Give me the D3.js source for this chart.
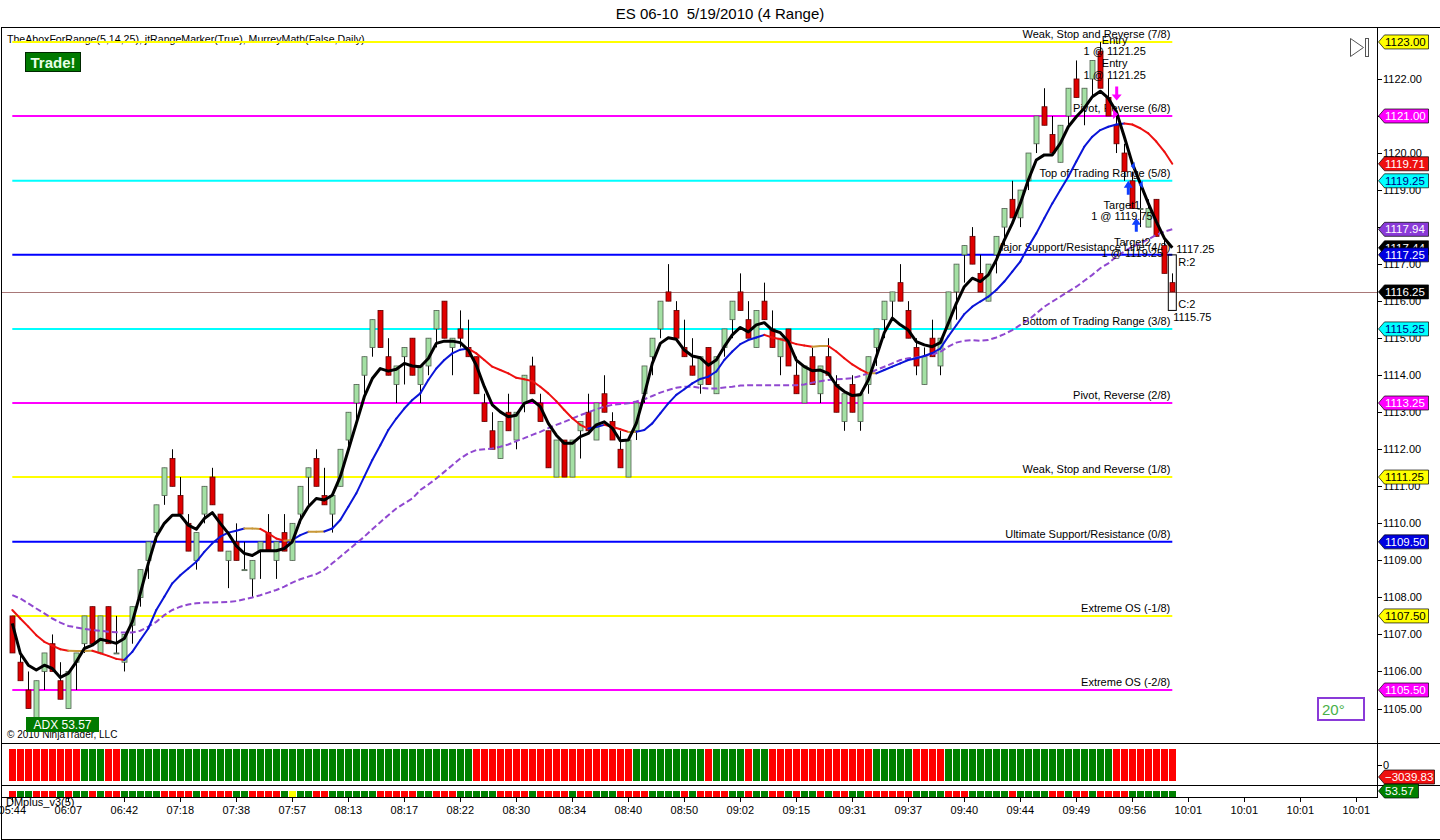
<!DOCTYPE html>
<html><head><meta charset="utf-8">
<script src="https://cdn.jsdelivr.net/npm/d3@7/dist/d3.min.js"></script>
<style>
body{margin:0;background:#fff;}
svg{display:block;font-family:"Liberation Sans",Arial,sans-serif;}
</style></head><body>
<svg id="c" width="1440" height="840"></svg>
<script>
// ---------------- DATA ----------------
const title = "ES 06-10  5/19/2010 (4 Range)";
const indicatorLabel = "TheAboxForRange(5,14,25), jtRangeMarker(True), MurreyMath(False,Daily)";

const opens = [1107.5,1106.25,1105.5,1104.75,1106,1106.75,1105.75,1105,1106.25,1106.75,
1107.75,1106.5,1107.75,1106.5,1106.25,1107.25,1108,1109,1109.75,1110.75,
1111.75,1110.75,1110,1109,1110.25,1111.25,1110.25,1109,1109.5,1108.75,
1108.5,1109.25,1109.75,1109,1109.75,1109,1110.25,1111.25,1111.75,1110.75,
1110.25,1111,1112.25,1113.25,1114,1114.75,1115.75,1114.5,1113.75,1114.5,
1115,1113.75,1114.25,1115.25,1116,1114.75,1115.25,1114.75,1114.5,1113.25,
1112.5,1111.75,1113,1112.25,1113.25,1114.25,1113.25,1112.5,1111.25,1112.25,
1111.25,1112.5,1113,1112.25,1113.5,1112.75,1112,1111.25,1112.5,1113.5,
1114.5,1115.25,1116.25,1115.75,1114.75,1114.25,1113.75,1114.75,1113.5,1114.75,
1115.5,1116.25,1115.5,1114.75,1116,1115.25,1114.5,1115.25,1114,1113.25,
1114.5,1113.5,1114.5,1113.75,1112.75,1113.75,1112.75,1113.75,1114.75,1115.5,
1116,1116.5,1115.75,1114.75,1113.75,1115,1114.25,1115.25,1116.25,1117.25,
1117.75,1116.75,1116,1117.25,1118,1118.75,1118.25,1119.25,1120.25,1121.25,
1120.5,1119.75,1121,1122,1121.25,1122,1122.75,1121.5,1120.75,1120,
1119.25,1118.5,1118,1118.75,1117.5,1116.5];
const highs = [1107.5,1106.5,1106,1105.75,1106.5,1107,1106.25,1106,1106.5,1107.5,
1107.75,1107.5,1107.75,1107.5,1107,1107.75,1108.75,1109.5,1110.5,1111.5,
1112,1111.25,1110.25,1109.75,1111,1111.5,1110.25,1109.25,1110,1109.5,
1109,1109.5,1110.25,1109.5,1110.25,1110,1111,1111.5,1112,1111.5,
1110.75,1112,1113,1113.75,1114.5,1115.5,1115.75,1115,1114.25,1114.75,
1115,1114.25,1115,1115.75,1116,1115,1115.75,1115.5,1114.5,1113.5,
1113,1112.75,1113.5,1113,1114,1114.5,1113.5,1112.5,1112.25,1112.25,
1112.25,1112.75,1113.5,1113.25,1114,1113,1112.5,1112.25,1113.25,1114.25,
1115,1116,1117,1116,1115.5,1115,1114.5,1114.75,1114.5,1115.25,
1116,1116.75,1116,1115.75,1116.5,1115.75,1115,1115.25,1114.5,1114.25,
1114.75,1114.25,1115,1114,1113.5,1114,1113.5,1114.5,1115.25,1116,
1116.25,1117,1116,1115,1114.75,1115.5,1115,1116.25,1117,1117.5,
1118,1117.25,1117,1117.75,1118.5,1119.25,1119,1120,1121,1121.75,
1121,1120.75,1121.75,1122.5,1121.75,1122.5,1123,1122,1121,1120.25,
1119.5,1119.25,1118.75,1118.75,1117.75,1116.75];
const lows = [1106.5,1105.75,1105,1104.75,1105.5,1106,1105.25,1105,1105.5,1106.5,
1106.75,1106.5,1106.75,1106.5,1106,1106.75,1107.75,1108.5,1109.5,1110.5,
1111,1110.25,1109.25,1108.75,1110,1110.5,1109.25,1108.25,1109,1108.75,
1108,1108.5,1109.25,1108.5,1109.25,1109,1110,1110.5,1111,1110.5,
1109.75,1111,1112,1112.75,1113.5,1114.5,1114.75,1114,1113.25,1113.75,
1114,1113.25,1114,1114.75,1115,1114,1114.75,1114.5,1113.5,1112.75,
1112,1111.75,1112.5,1112,1113,1113.5,1112.75,1111.5,1111.25,1111.25,
1111.25,1111.75,1112.5,1112.25,1113,1112.25,1111.5,1111.25,1112.25,1113.25,
1114,1115,1116,1115,1114.5,1114,1113.5,1113.75,1113.5,1114.5,
1115,1115.75,1115,1114.75,1115.5,1114.75,1114,1114.25,1113.5,1113.25,
1113.75,1113.25,1114,1113,1112.5,1113,1112.5,1113.5,1114.25,1115,
1115.5,1116,1115,1114,1113.75,1114.5,1114,1115.25,1115.5,1116.5,
1117,1116.25,1116,1116.75,1117.5,1118.25,1118,1119,1120,1120.75,
1120,1119.75,1120.75,1121.5,1120.75,1121.5,1121.75,1121,1120,1119.25,
1118.5,1118,1118,1117.75,1116.75,1116.25];
const closes = [1106.5,1105.75,1105,1105.75,1106.5,1106,1105.25,1106,1106.5,1107.5,
1106.75,1107.5,1106.75,1106.5,1107,1107.75,1108.75,1109.5,1110.5,1111.5,
1111,1110.25,1109.25,1109.75,1111,1110.5,1109.25,1109.25,1109,1108.75,
1109,1109.5,1109.25,1109.5,1109.25,1110,1111,1111.5,1111,1110.5,
1110.75,1112,1113,1113.75,1114.5,1115.5,1114.75,1114,1114.25,1114.75,
1114,1114.25,1115,1115.75,1115,1115,1115,1114.5,1113.5,1112.75,
1112,1112.75,1112.5,1113,1114,1113.5,1112.75,1111.5,1112.25,1111.25,
1112.25,1112.75,1112.5,1113.25,1113,1112.25,1111.5,1112.25,1113.25,1114.25,
1115,1116,1116,1115,1114.5,1114,1114.5,1113.75,1114.5,1115.25,
1116,1115.75,1115,1115.75,1115.5,1114.75,1115,1114.25,1113.5,1114.25,
1113.75,1114.25,1114,1113,1113.5,1113,1113.5,1114.5,1115.25,1116,
1116.25,1116,1115,1114.25,1114.5,1114.5,1115,1116.25,1117,1117.5,
1117,1116.25,1117,1117.75,1118.5,1118.25,1119,1120,1121,1120.75,
1120,1120.75,1121.75,1121.5,1121.75,1122.5,1121.75,1121,1120.25,1119.5,
1118.5,1118.5,1118.5,1117.75,1116.75,1116.25];

// fast (5) smoothing line, thick black
const fastLine = [1107.30,1106.49,1106.17,1106.04,1106.17,1106.08,1105.84,1105.95,1106.26,1106.62,
1106.71,1106.87,1106.82,1106.76,1106.89,1107.34,1108.11,1108.92,1109.64,1110.00,
1110.22,1110.22,1109.95,1109.84,1110.13,1110.29,1110.00,1109.73,1109.39,1109.19,
1109.13,1109.26,1109.26,1109.26,1109.32,1109.50,1110.09,1110.45,1110.67,1110.63,
1110.76,1111.26,1111.98,1112.70,1113.42,1113.91,1114.18,1114.11,1114.16,1114.32,
1114.25,1114.23,1114.45,1114.86,1114.92,1114.92,1114.88,1114.68,1114.27,1113.69,
1113.20,1113.01,1112.88,1112.92,1113.24,1113.33,1113.15,1112.70,1112.38,1112.16,
1112.16,1112.34,1112.43,1112.66,1112.74,1112.57,1112.23,1112.25,1112.70,1113.47,
1114.32,1114.86,1115.01,1114.97,1114.68,1114.52,1114.47,1114.27,1114.41,1114.77,
1115.09,1115.29,1115.17,1115.36,1115.42,1115.22,1115.15,1114.91,1114.41,1114.23,
1114.12,1114.14,1114.05,1113.73,1113.56,1113.45,1113.47,1113.87,1114.50,1115.15,
1115.54,1115.36,1115.22,1114.91,1114.82,1114.77,1114.88,1115.40,1115.94,1116.39,
1116.62,1116.53,1116.71,1117.11,1117.65,1118.10,1118.64,1119.27,1119.81,1119.95,
1119.95,1120.26,1120.71,1120.98,1121.21,1121.52,1121.67,1121.48,1121.12,1120.44,
1119.72,1119.18,1118.64,1118.15,1117.70,1117.44];

// medium (14) line, coloured by slope
const medLine = [1107.66,1107.43,1107.21,1106.98,1106.80,1106.70,1106.60,1106.56,1106.55,1106.55,
1106.56,1106.49,1106.42,1106.34,1106.31,1106.53,1106.85,1107.16,1107.66,1108.02,
1108.38,1108.60,1108.78,1108.96,1109.23,1109.46,1109.64,1109.75,1109.80,1109.86,
1109.86,1109.85,1109.73,1109.59,1109.53,1109.55,1109.68,1109.77,1109.77,1109.78,
1109.86,1110.09,1110.45,1110.81,1111.26,1111.71,1112.11,1112.52,1112.83,1113.10,
1113.33,1113.51,1113.87,1114.18,1114.41,1114.59,1114.69,1114.72,1114.59,1114.41,
1114.23,1114.14,1114.05,1113.93,1113.89,1113.84,1113.69,1113.51,1113.30,1113.06,
1112.84,1112.66,1112.56,1112.60,1112.66,1112.61,1112.54,1112.47,1112.47,1112.52,
1112.70,1112.97,1113.24,1113.47,1113.62,1113.78,1113.90,1113.96,1114.10,1114.41,
1114.64,1114.84,1114.95,1115.02,1115.09,1115.02,1114.97,1114.91,1114.84,1114.80,
1114.77,1114.79,1114.79,1114.64,1114.46,1114.29,1114.16,1114.05,1114.05,1114.14,
1114.23,1114.32,1114.41,1114.46,1114.52,1114.60,1114.72,1115.05,1115.35,1115.65,
1115.85,1115.99,1116.12,1116.30,1116.53,1116.80,1117.07,1117.47,1117.83,1118.24,
1118.64,1119.00,1119.36,1119.77,1120.17,1120.44,1120.62,1120.71,1120.77,1120.80,
1120.77,1120.67,1120.53,1120.31,1120.04,1119.71];

// slow (25) dashed line
const slowLine = [1108.06,1107.97,1107.84,1107.70,1107.57,1107.43,1107.32,1107.23,1107.19,1107.15,
1107.12,1107.10,1107.07,1107.06,1107.05,1107.05,1107.10,1107.21,1107.34,1107.52,
1107.66,1107.75,1107.81,1107.84,1107.86,1107.86,1107.87,1107.88,1107.90,1107.95,
1108.00,1108.06,1108.13,1108.20,1108.29,1108.40,1108.49,1108.56,1108.63,1108.74,
1108.92,1109.10,1109.28,1109.46,1109.64,1109.84,1110.03,1110.22,1110.40,1110.54,
1110.67,1110.90,1111.05,1111.21,1111.39,1111.57,1111.75,1111.89,1111.98,1112.00,
1112.02,1112.07,1112.13,1112.22,1112.30,1112.39,1112.47,1112.57,1112.66,1112.74,
1112.83,1112.92,1113.00,1113.08,1113.15,1113.20,1113.22,1113.24,1113.29,1113.35,
1113.44,1113.53,1113.60,1113.66,1113.69,1113.69,1113.66,1113.64,1113.64,1113.67,
1113.69,1113.72,1113.73,1113.73,1113.73,1113.73,1113.73,1113.73,1113.73,1113.75,
1113.80,1113.84,1113.87,1113.89,1113.90,1113.92,1113.98,1114.05,1114.14,1114.23,
1114.32,1114.41,1114.46,1114.48,1114.52,1114.56,1114.63,1114.77,1114.88,1114.93,
1114.95,1114.93,1114.95,1115.02,1115.11,1115.22,1115.36,1115.49,1115.67,1115.85,
1115.99,1116.12,1116.26,1116.39,1116.55,1116.71,1116.89,1117.02,1117.20,1117.34,
1117.47,1117.56,1117.67,1117.79,1117.88,1117.94];

// upper histogram state (1 = green, -1 = red)
const histState = [-1,-1,-1,-1,-1,-1,-1,-1,-1,1,1,1,-1,-1,
1,1,1,1,1,1,1,1,1,1,1,1,1,1,1,1,1,1,1,1,1,1,1,1,1,1,1,1,1,1,1,1,1,1,1,1,1,1,1,1,1,1,1,1,
-1,-1,-1,-1,-1,-1,-1,-1,-1,-1,-1,-1,-1,-1,-1,-1,-1,-1,-1,-1,
1,1,1,1,1,1,1,1,1,-1,1,1,1,1,-1,1,1,
-1,-1,-1,-1,-1,-1,-1,-1,-1,-1,-1,-1,-1,
1,1,1,1,1,-1,-1,-1,-1,
1,1,1,1,1,1,1,1,1,1,1,1,1,1,1,1,1,1,1,1,1,
-1,-1,-1,-1,-1,-1,-1,-1];

// DMplus state (1 = green, -1 = red, 0 = yellow)
const dmState = [-1,1,1,-1,-1,-1,1,-1,1,1,-1,1,-1,-1,1,1,1,1,1,-1,
-1,-1,-1,1,-1,-1,-1,-1,1,1,-1,-1,-1,-1,1,0,1,1,-1,-1,
1,1,1,1,1,1,-1,-1,-1,-1,-1,1,1,-1,-1,-1,1,1,1,1,
1,-1,-1,-1,-1,1,-1,-1,-1,-1,1,-1,-1,1,1,1,-1,-1,-1,-1,
1,1,1,1,-1,1,-1,-1,-1,-1,1,1,-1,1,1,-1,-1,1,-1,1,
1,-1,1,-1,-1,1,1,-1,-1,-1,-1,-1,-1,1,1,1,1,-1,-1,-1,
1,1,1,1,1,-1,1,1,1,1,-1,-1,1,-1,-1,1,-1,-1,-1,-1,
1,1,1,1,1,1];

const tickBars = [0,7,14,21,28,35,42,49,56,63,70,77,84,91,98,105,112,119,126,133,140,147,154,161,168];
const tickLabels = ["05:44","06:07","06:42","07:18","07:38","07:57","08:13","08:17","08:22","08:30","08:34","08:40","08:50","09:02","09:15","09:31","09:37","09:40","09:44","09:49","09:56","10:01","10:01","10:01","10:01"];

const murreyLevels = [1123.00,1121.00,1119.25,1117.25,1115.25,1113.25,1111.25,1109.50,1107.50,1105.50];
const murreyNames = ["Weak, Stop and Reverse (7/8)","Pivot, Reverse (6/8)","Top of Trading Range (5/8)","Major Support/Resistance Line (4/8)","Bottom of Trading Range (3/8)","Pivot, Reverse (2/8)","Weak, Stop and Reverse (1/8)","Ultimate Support/Resistance (0/8)","Extreme OS (-1/8)","Extreme OS (-2/8)"];

const priceTicks = [1105,1106,1107,1108,1109,1110,1111,1112,1113,1114,1115,1116,1117,1118,1119,1120,1121,1122];
const lastPrice = 1116.25;
const adxValue = 53.57;
const histLast = -3039.83;
const angleText = "20°";

const tradeTexts = ["Entry","1 @ 1121.25","Entry","1 @ 1121.25","Target1","1 @ 1119.75","Target2","1 @ 1119.25"];
const tradeBars =  [137.8,137.8,137.8,137.8,138.7,138.7,140,140];
const tradePrices = [1122.95,1122.65,1122.33,1122.0,1118.5,1118.18,1117.5,1117.18];
const rangeTop = 1117.25, rangeBottom = 1115.75, rangeR = "R:2", rangeC = "C:2";

// ---------------- DRAW ----------------
const svg = d3.select("#c");
const x = d3.scaleLinear().domain([0,170]).range([12.3,1372.3]);
const y = d3.scaleLinear().domain([1105,1121]).range([708.5,116]);
const N = closes.length;
const idx = d3.range(N);

const GREEN_UP = "#a4e0a4", RED_DN = "#e00000";
const murreyColors = ["#ffff00","#ff00ff","#00ffff","#0000ff","#00ffff","#ff00ff","#ffff00","#0000ff","#ffff00","#ff00ff"];

// title
svg.append("text").attr("x",720).attr("y",19).attr("text-anchor","middle")
  .style("font-size","15px").style("white-space","pre").text(title);

// frames
const frame = svg.append("g").attr("stroke","#000").attr("stroke-width",1);
frame.append("line").attr("x1",1).attr("x2",1440).attr("y1",27.5).attr("y2",27.5);
frame.append("line").attr("x1",1.5).attr("x2",1.5).attr("y1",27).attr("y2",840);
frame.append("line").attr("x1",1377.5).attr("x2",1377.5).attr("y1",27).attr("y2",797);
frame.append("line").attr("x1",1).attr("x2",1440).attr("y1",743.5).attr("y2",743.5);
frame.append("line").attr("x1",1).attr("x2",1440).attr("y1",785.5).attr("y2",785.5);
frame.append("line").attr("x1",1).attr("x2",1378).attr("y1",797.5).attr("y2",797.5);
frame.append("line").attr("x1",1).attr("x2",1440).attr("y1",839.5).attr("y2",839.5);

svg.append("clipPath").attr("id","mc").append("rect").attr("x",2).attr("y",28).attr("width",1375).attr("height",715);
const main = svg.append("g").attr("clip-path","url(#mc)");

// indicator label
main.append("text").attr("x",7).attr("y",43).style("font-size","10.6px").text(indicatorLabel);

// Murrey lines
main.selectAll("line.mm").data(murreyLevels).join("line").attr("class","mm")
  .attr("x1",x(0)).attr("x2",x(N-1)).attr("y1",d=>y(d)).attr("y2",d=>y(d))
  .attr("stroke",(d,i)=>murreyColors[i]).attr("stroke-width",2);
main.selectAll("text.mm").data(murreyLevels).join("text").attr("class","mm")
  .attr("x",x(N-1)-2).attr("y",d=>y(d)-4).attr("text-anchor","end")
  .style("font-size","11px").text((d,i)=>murreyNames[i]);

// last price line
main.append("line").attr("x1",2).attr("x2",1377).attr("y1",Math.round(y(lastPrice))+0.5).attr("y2",Math.round(y(lastPrice))+0.5)
  .attr("stroke","#a87878").attr("stroke-width",1);

// candles
const cg = main.append("g");
cg.selectAll("line.w").data(idx).join("line").attr("class","w")
  .attr("x1",i=>Math.round(x(i))+0.5).attr("x2",i=>Math.round(x(i))+0.5)
  .attr("y1",i=>y(highs[i])).attr("y2",i=>y(lows[i])).attr("stroke","#000").attr("stroke-width",1);
cg.selectAll("rect.b").data(idx).join("rect").attr("class","b")
  .attr("x",i=>Math.round(x(i))-2)
  .attr("y",i=>y(Math.max(opens[i],closes[i])))
  .attr("width",5)
  .attr("height",i=>Math.max(1,Math.abs(y(opens[i])-y(closes[i]))))
  .attr("fill",i=>closes[i]>=opens[i]?GREEN_UP:RED_DN)
  .attr("stroke",i=>closes[i]>=opens[i]?"#506050":"#600000").attr("stroke-width",0.8);

// slow dashed line
main.append("path").datum(idx).attr("fill","none").attr("stroke","#9048d0").attr("stroke-width",2)
  .attr("stroke-dasharray","6,3")
  .attr("d",d3.line().x(i=>x(i)).y(i=>y(slowLine[i])));

// medium line, coloured by slope
function segColor(i){
  const d = medLine[i+1]-medLine[i];
  if (d > 0.02) return "#0a14d8";
  if (d < -0.02) return "#ee1010";
  return "#c89838";
}
main.selectAll("line.med").data(idx.slice(0,N-1)).join("line").attr("class","med")
  .attr("x1",i=>x(i)).attr("x2",i=>x(i+1)).attr("y1",i=>y(medLine[i])).attr("y2",i=>y(medLine[i+1]))
  .attr("stroke",segColor).attr("stroke-width",2).attr("stroke-linecap","round");

// fast black line
main.append("path").datum(idx).attr("fill","none").attr("stroke","#000").attr("stroke-width",3)
  .attr("stroke-linejoin","round")
  .attr("d",d3.line().x(i=>x(i)).y(i=>y(fastLine[i])));

// trade markers
const tg = main.append("g").style("font-size","11px");
tg.selectAll("text").data(tradeTexts).join("text")
  .attr("x",(d,i)=>x(tradeBars[i])).attr("y",(d,i)=>y(tradePrices[i])).attr("text-anchor","middle").text(d=>d);
// magenta exit arrow
const ax = x(138.05), ay = y(1121.8);
tg.append("path").attr("d",`M${ax-1.5},${ay} h3 v8 h3.5 l-5,6 l-5,-6 h3.5 z`).attr("fill","#ff00ff");
tg.append("path").attr("d",`M${x(137.6)},${y(1121.05)-5} l5,5 l-5,5 z`).attr("fill","#ff00ff");
// blue target arrows
[[139.5,1119.25],[140.5,1118.25]].forEach(([b,p])=>{
  const bx=x(b), by=y(p);
  tg.append("path").attr("d",`M${bx-1.5},${by+14} h3 v-7 h3 l-4.5,-7 l-4.5,7 h3 z`).attr("fill","#1040ff");
});
tg.append("path").attr("d",`M${x(139.8)},${y(1119.65)} l4,-4 v8 z`).attr("fill","#1040ff");
tg.append("path").attr("d",`M${x(140.8)},${y(1119.15)} l4,-4 v8 z`).attr("fill","#1040ff");

// range marker box
const rb = x(N-1);
main.append("rect").attr("x",rb-4).attr("y",y(rangeTop)).attr("width",8).attr("height",y(rangeBottom)-y(rangeTop))
  .attr("fill","none").attr("stroke","#000").attr("stroke-width",1);
const rt = main.append("g").style("font-size","11px");
rt.append("text").attr("x",rb+4).attr("y",y(rangeTop)-2).text(d3.format(".2f")(rangeTop));
rt.append("text").attr("x",rb+6).attr("y",y(rangeTop)+11).text(rangeR);
rt.append("text").attr("x",rb+6).attr("y",y(rangeBottom)-2).text(rangeC);
rt.append("text").attr("x",rb+1).attr("y",y(rangeBottom)+11).text(d3.format(".2f")(rangeBottom));

// Trade! badge
svg.append("rect").attr("x",25.5).attr("y",52.5).attr("width",55).attr("height",19).attr("fill","#007a00").attr("stroke","#002800");
svg.append("text").attr("x",53).attr("y",67.5).attr("text-anchor","middle").attr("fill","#e8ffe8")
  .style("font-size","15px").style("font-weight","bold").text("Trade!");

// copyright + ADX
svg.append("text").attr("x",7).attr("y",738).style("font-size","10px").text("© 2010 NinjaTrader, LLC");
svg.append("rect").attr("x",26).attr("y",717).attr("width",73).attr("height",15).attr("fill","#007a00");
svg.append("text").attr("x",62.5).attr("y",729).attr("text-anchor","middle").attr("fill","#fff")
  .style("font-size","12px").text("ADX " + d3.format(".2f")(adxValue));

// angle box
svg.append("rect").attr("x",1318).attr("y",698).attr("width",46).attr("height",22).attr("fill","#fff")
  .attr("stroke","#8a3ad8").attr("stroke-width",2);
svg.append("text").attr("x",1322).attr("y",715).attr("fill","#48b048").style("font-size","15px").text(angleText);

// play-to-end icon
svg.append("path").attr("d","M1350.5,38.5 L1363.5,47.5 L1350.5,56.5 Z").attr("fill","none").attr("stroke","#555");
svg.append("rect").attr("x",1365.5).attr("y",38.5).attr("width",3).attr("height",18).attr("fill","none").attr("stroke","#555");

// right price axis
const ax2 = svg.append("g").style("font-size","11px");
ax2.selectAll("line").data(priceTicks).join("line")
  .attr("x1",1377).attr("x2",1382).attr("y1",d=>Math.round(y(d))+0.5).attr("y2",d=>Math.round(y(d))+0.5).attr("stroke","#000");
ax2.selectAll("text").data(priceTicks).join("text")
  .attr("x",1383).attr("y",d=>y(d)+4).text(d=>d3.format(".2f")(d));

function flag(yy, txt, fill, tcol, w){
  w = w || 44;
  const g = svg.append("g");
  g.append("path").attr("d",`M1378.5,${yy} L1384.5,${yy-7} H${1384.5+w} V${yy+7} H1384.5 Z`)
    .attr("fill",fill).attr("stroke","#000").attr("stroke-width",0.7);
  g.append("text").attr("x",1385).attr("y",yy+4).attr("fill",tcol).style("font-size","11.5px").text(txt);
}
const f2 = d3.format(".2f");
flag(y(murreyLevels[0]), f2(murreyLevels[0]), "#ffff00", "#000");
flag(y(murreyLevels[1]), f2(murreyLevels[1]), "#ff00ff", "#fff");
flag(y(medLine[N-1]), f2(medLine[N-1]), "#ee1010", "#fff");
flag(y(murreyLevels[2]), f2(murreyLevels[2]), "#00ffff", "#000080");
flag(y(slowLine[N-1]), f2(slowLine[N-1]), "#8a3ad8", "#fff");
flag(y(fastLine[N-1]), f2(fastLine[N-1]), "#000", "#fff");
flag(y(murreyLevels[3]), f2(murreyLevels[3]), "#0000e0", "#fff");
flag(y(lastPrice), f2(lastPrice), "#000", "#fff");
flag(y(murreyLevels[4]), f2(murreyLevels[4]), "#00ffff", "#000080");
flag(y(murreyLevels[5]), f2(murreyLevels[5]), "#ff00ff", "#fff");
flag(y(murreyLevels[6]), f2(murreyLevels[6]), "#ffff00", "#000");
flag(y(murreyLevels[7]), f2(murreyLevels[7]), "#0000e0", "#fff");
flag(y(murreyLevels[8]), f2(murreyLevels[8]), "#ffff00", "#000");
flag(y(murreyLevels[9]), f2(murreyLevels[9]), "#ff00ff", "#fff");

// histogram panel
const hy = d3.scaleLinear().domain([0,1]).range([781,749]);
svg.append("g").selectAll("rect").data(idx).join("rect")
  .attr("x",i=>Math.round(x(i))-3).attr("width",7)
  .attr("y",hy(1)).attr("height",hy(0)-hy(1))
  .attr("fill",i=>histState[i]>0?"#008000":"#ff0000");
svg.append("line").attr("x1",1377).attr("x2",1382).attr("y1",765.5).attr("y2",765.5).attr("stroke","#000");
svg.append("text").attr("x",1383).attr("y",769).style("font-size","11px").text("0");
flag(777, f2(histLast), "#ee1010", "#fff", 50);

// DMplus panel
const dy = d3.scaleLinear().domain([0,1]).range([797,791]);
svg.append("g").selectAll("rect").data(idx).join("rect")
  .attr("x",i=>Math.round(x(i))-3).attr("width",7)
  .attr("y",dy(1)).attr("height",dy(0)-dy(1))
  .attr("fill",i=>dmState[i]>0?"#008000":(dmState[i]<0?"#ff0000":"#ffff00"));
flag(791, f2(adxValue), "#008000", "#fff", 34);
svg.append("text").attr("x",6).attr("y",806).style("font-size","11px").text("DMplus_v3(5)");

// x axis
const xa = svg.append("g").style("font-size","11px");
xa.selectAll("line").data(tickBars).join("line")
  .attr("x1",b=>Math.round(x(b))+0.5).attr("x2",b=>Math.round(x(b))+0.5).attr("y1",797).attr("y2",802).attr("stroke","#000");
xa.selectAll("text").data(tickBars).join("text")
  .attr("x",b=>x(b)).attr("y",814).attr("text-anchor","middle").text((b,i)=>tickLabels[i]);
</script>
</body></html>
